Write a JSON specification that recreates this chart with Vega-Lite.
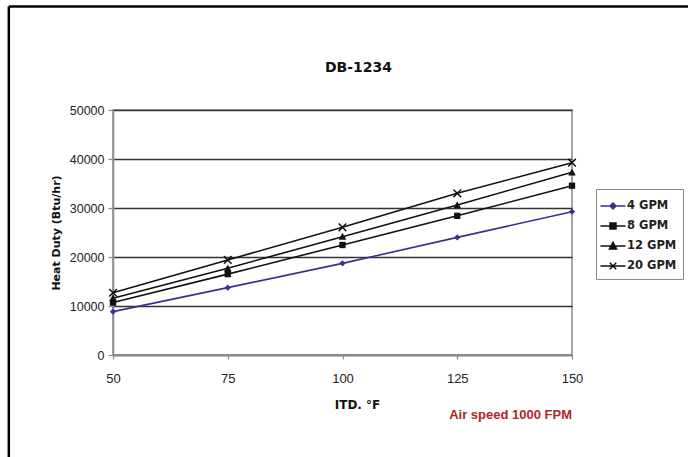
{
  "$schema": "https://vega.github.io/schema/vega-lite/v6.json",
  "width": 459,
  "height": 245,
  "autosize": {"type": "none"},
  "padding": {"left": 113, "top": 110, "right": 116, "bottom": 102},
  "background": "white",
  "title": {"text": "DB-1234", "font": "DejaVu Sans", "fontSize": 14, "fontWeight": "bold", "color": "#111", "offset": -70, "dx": 16},
  "config": {
    "view": {"stroke": "#8a8a8a", "strokeWidth": 1.5},
    "axis": {"labelFont": "Liberation Sans", "labelFontSize": 12.5, "labelColor": "#222", "titleFont": "DejaVu Sans", "titleFontWeight": "bold", "titleFontSize": 11, "titleColor": "#111", "domainColor": "#8a8a8a", "domainWidth": 1.5, "tickColor": "#8a8a8a", "tickWidth": 1.2}
  },
  "data": {"values": [
    {"series": "4 GPM", "itd": 50, "q": 8850},
    {"series": "4 GPM", "itd": 75, "q": 13750},
    {"series": "4 GPM", "itd": 100, "q": 18700},
    {"series": "4 GPM", "itd": 125, "q": 24000},
    {"series": "4 GPM", "itd": 150, "q": 29250},
    {"series": "8 GPM", "itd": 50, "q": 10700},
    {"series": "8 GPM", "itd": 75, "q": 16500},
    {"series": "8 GPM", "itd": 100, "q": 22450},
    {"series": "8 GPM", "itd": 125, "q": 28400},
    {"series": "8 GPM", "itd": 150, "q": 34550},
    {"series": "12 GPM", "itd": 50, "q": 11600},
    {"series": "12 GPM", "itd": 75, "q": 17700},
    {"series": "12 GPM", "itd": 100, "q": 24150},
    {"series": "12 GPM", "itd": 125, "q": 30600},
    {"series": "12 GPM", "itd": 150, "q": 37300},
    {"series": "20 GPM", "itd": 50, "q": 12700},
    {"series": "20 GPM", "itd": 75, "q": 19400},
    {"series": "20 GPM", "itd": 100, "q": 26050},
    {"series": "20 GPM", "itd": 125, "q": 33000},
    {"series": "20 GPM", "itd": 150, "q": 39250}
  ]},
  "layer": [
    {
      "mark": {"type": "line", "strokeWidth": 1.6},
      "encoding": {
        "x": {"field": "itd", "type": "quantitative", "scale": {"domain": [50, 150]},
              "axis": {"values": [50, 75, 100, 125, 150], "grid": false, "labelFlush": false, "tickSize": 4, "labelPadding": 13, "labelFontSize": 13, "title": "ITD. °F", "titlePadding": 14, "titleX": 244, "titleFontSize": 12}},
        "y": {"field": "q", "type": "quantitative", "scale": {"domain": [0, 50000]},
              "axis": {"values": [0, 10000, 20000, 30000, 40000, 50000], "format": "d", "grid": true, "gridColor": "#333", "gridWidth": 1.6, "tickSize": 5, "labelPadding": 4, "title": "Heat Duty (Btu/hr)", "titlePadding": 8}},
        "color": {"field": "series", "type": "nominal",
                  "scale": {"domain": ["4 GPM", "8 GPM", "12 GPM", "20 GPM"], "range": ["#3d2e8f", "#111111", "#111111", "#111111"]},
                  "legend": {"title": null, "orient": "none", "legendX": 483, "legendY": 79,
                             "strokeColor": "#8a8a8a", "fillColor": "white", "padding": 6,
                             "labelFont": "DejaVu Sans", "labelFontWeight": "bold", "labelFontSize": 11.5, "labelColor": "#222",
                             "symbolSize": 400, "labelOffset": 3, "rowPadding": 3,
                             "encode": {"symbols": {"update": {
                               "shape": {"signal": "datum.value == '4 GPM' ? 'M-1.25,0H1.25M0,-0.3L0.3,0L0,0.3L-0.3,0Z' : datum.value == '8 GPM' ? 'M-1.25,0H1.25M-0.3,-0.3H0.3V0.3H-0.3Z' : datum.value == '12 GPM' ? 'M-1.25,0H1.25M0,-0.36L0.36,0.3H-0.36Z' : 'M-1.25,0H1.25M-0.32,-0.32L0.32,0.32M-0.32,0.32L0.32,-0.32'"},
                               "fill": {"scale": "color", "field": "value"},
                               "stroke": {"scale": "color", "field": "value"},
                               "strokeWidth": {"value": 1.5},
                               "opacity": {"value": 1}
                             }}}}}
      }
    },
    {
      "transform": [{"filter": "datum.series == '4 GPM'"}],
      "mark": {"type": "point", "filled": true, "opacity": 1, "size": 40, "shape": "M0,-1L1,0L0,1L-1,0Z"},
      "encoding": {
        "x": {"field": "itd", "type": "quantitative"},
        "y": {"field": "q", "type": "quantitative"},
        "color": {"field": "series", "type": "nominal"}
      }
    },
    {
      "transform": [{"filter": "datum.series == '8 GPM'"}],
      "mark": {"type": "point", "filled": true, "opacity": 1, "size": 40, "shape": "M-1,-1H1V1H-1Z"},
      "encoding": {
        "x": {"field": "itd", "type": "quantitative"},
        "y": {"field": "q", "type": "quantitative"},
        "color": {"field": "series", "type": "nominal"}
      }
    },
    {
      "transform": [{"filter": "datum.series == '12 GPM'"}],
      "mark": {"type": "point", "filled": true, "opacity": 1, "size": 40, "shape": "M0,-1.2L1.2,1H-1.2Z"},
      "encoding": {
        "x": {"field": "itd", "type": "quantitative"},
        "y": {"field": "q", "type": "quantitative"},
        "color": {"field": "series", "type": "nominal"}
      }
    },
    {
      "transform": [{"filter": "datum.series == '20 GPM'"}],
      "mark": {"type": "point", "filled": false, "opacity": 1, "size": 40, "strokeWidth": 1.5, "shape": "M-1.2,-1.2L1.2,1.2M-1.2,1.2L1.2,-1.2"},
      "encoding": {
        "x": {"field": "itd", "type": "quantitative"},
        "y": {"field": "q", "type": "quantitative"},
        "color": {"field": "series", "type": "nominal"}
      }
    },
    {
      "data": {"values": [{"label": "Air speed 1000 FPM"}]},
      "mark": {"type": "text", "align": "right", "baseline": "alphabetic", "font": "Liberation Sans", "fontSize": 13, "fontWeight": "bold", "color": "#b3242b"},
      "encoding": {
        "x": {"datum": 150, "type": "quantitative"},
        "y": {"datum": -13100, "type": "quantitative"},
        "text": {"field": "label"}
      }
    },
    {
      "data": {"values": [{"edge": "top"}]},
      "mark": {"type": "rule", "color": "#000", "strokeWidth": 2.5},
      "encoding": {
        "x": {"datum": 27.3, "type": "quantitative"},
        "x2": {"datum": 176},
        "y": {"datum": 71100, "type": "quantitative"}
      }
    },
    {
      "data": {"values": [{"edge": "left"}]},
      "mark": {"type": "rule", "color": "#000", "strokeWidth": 2.5},
      "encoding": {
        "x": {"datum": 27.3, "type": "quantitative"},
        "y": {"datum": 71100, "type": "quantitative"},
        "y2": {"datum": -21000}
      }
    }
  ]
}
